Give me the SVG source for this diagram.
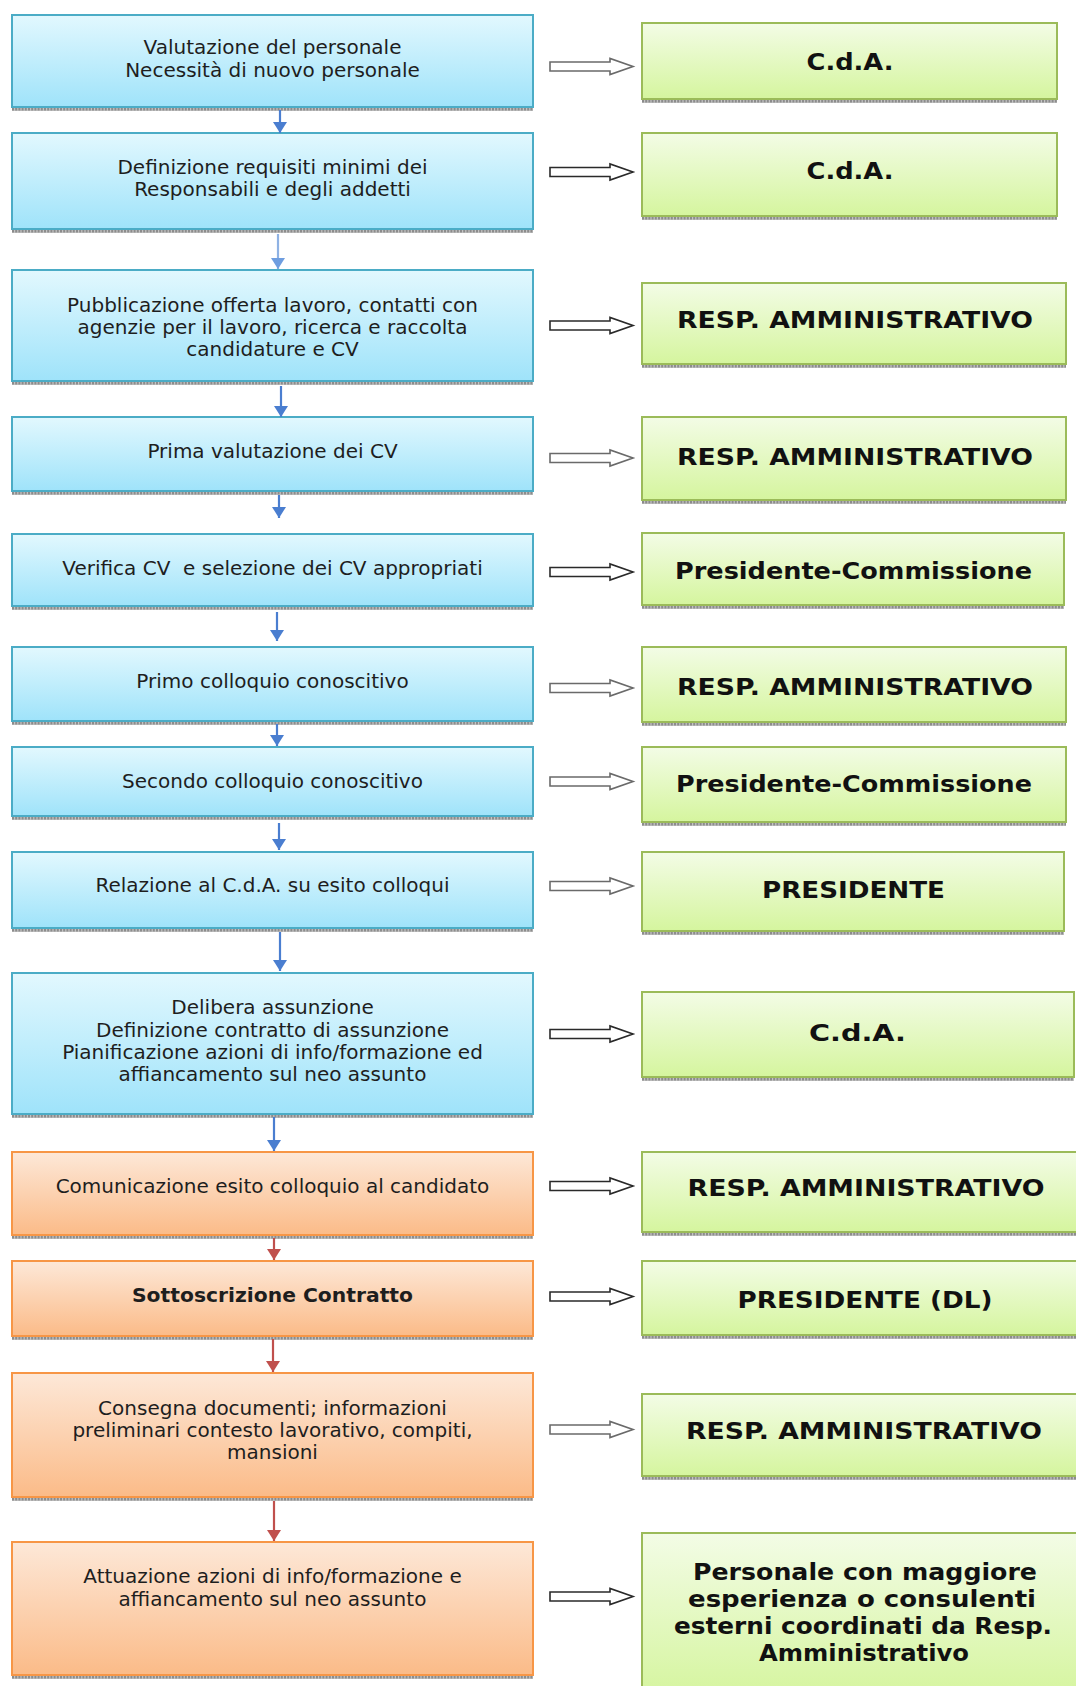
<svg xmlns="http://www.w3.org/2000/svg" xmlns:xlink="http://www.w3.org/1999/xlink" width="1076" height="1686" viewBox="0 0 1076 1686">
<defs>
<linearGradient id="gBlue" x1="0" y1="0" x2="0" y2="1"><stop offset="0" stop-color="#e2f8fe"/><stop offset="1" stop-color="#9fe3fa"/></linearGradient>
<linearGradient id="gOrange" x1="0" y1="0" x2="0" y2="1"><stop offset="0" stop-color="#fde8d8"/><stop offset="1" stop-color="#fbbb88"/></linearGradient>
<linearGradient id="gGreen" x1="0" y1="0" x2="0" y2="1"><stop offset="0" stop-color="#f3fce6"/><stop offset="1" stop-color="#d5f59e"/></linearGradient>
<marker id="mBlue" markerUnits="userSpaceOnUse" markerWidth="11" markerHeight="14" viewBox="0 0 11 14" refX="11" refY="7" orient="auto"><path d="M0,0 L11,7 L0,14 Z" fill="#4a7ed0"/></marker>
<marker id="mBlueL" markerUnits="userSpaceOnUse" markerWidth="11" markerHeight="14" viewBox="0 0 11 14" refX="11" refY="7" orient="auto"><path d="M0,0 L11,7 L0,14 Z" fill="#6f9ee0"/></marker>
<marker id="mRed" markerUnits="userSpaceOnUse" markerWidth="11" markerHeight="14" viewBox="0 0 11 14" refX="11" refY="7" orient="auto"><path d="M0,0 L11,7 L0,14 Z" fill="#c0504d"/></marker>
<path id="ha" d="M550,-4.5 H610 V-8 L633,0 L610,8 V4.5 H550 Z"/>
<style>
.bl{fill:url(#gBlue);stroke:#4bacc6;stroke-width:2}
.or{fill:url(#gOrange);stroke:#f79646;stroke-width:2}
.gr{fill:url(#gGreen);stroke:#9bbb59;stroke-width:2}
.sh{stroke:#8c8c8c;stroke-width:3;stroke-dasharray:2 1.2}
.shb{stroke:#c4c4c4;stroke-width:4}
.lt{font-family:"DejaVu Sans","Verdana",sans-serif;font-size:20px;fill:#1e1e1e;text-anchor:middle}
.ltb{font-family:"DejaVu Sans","Verdana",sans-serif;font-size:20px;font-weight:bold;fill:#1e1e1e;text-anchor:middle}
.rt{font-family:"DejaVu Sans","Verdana",sans-serif;font-size:23px;font-weight:bold;fill:#111;text-anchor:middle}
.vb{stroke:#4a7ed0;stroke-width:2.2;fill:none;marker-end:url(#mBlue)}
.vbl{stroke:#8fb2e4;stroke-width:2.2;fill:none;marker-end:url(#mBlueL)}
.vr{stroke:#c0504d;stroke-width:2.2;fill:none;marker-end:url(#mRed)}
.hd{fill:#fff;stroke:#2a2a2a;stroke-width:1.6}
.hl{fill:#fff;stroke:#6a6a6a;stroke-width:1.6}
</style>
</defs>
<rect width="1076" height="1686" fill="#fff"/>

<!-- Left process nodes -->
<g id="step1"><line class="shb" x1="12" y1="109" x2="533" y2="109"/><line class="sh" x1="12" y1="109" x2="533" y2="109"/><rect class="bl" x="12" y="15" width="521" height="92"/>
<text class="lt" x="272.5" y="54">Valutazione del personale</text><text class="lt" x="272.5" y="77">Necessità di nuovo personale</text></g>
<g id="step2"><line class="shb" x1="12" y1="231" x2="533" y2="231"/><line class="sh" x1="12" y1="231" x2="533" y2="231"/><rect class="bl" x="12" y="133" width="521" height="96"/>
<text class="lt" x="272.5" y="174">Definizione requisiti minimi dei</text><text class="lt" x="272.5" y="196">Responsabili e degli addetti</text></g>
<g id="step3"><line class="shb" x1="12" y1="383" x2="533" y2="383"/><line class="sh" x1="12" y1="383" x2="533" y2="383"/><rect class="bl" x="12" y="270" width="521" height="111"/>
<text class="lt" x="272.5" y="312">Pubblicazione offerta lavoro, contatti con</text><text class="lt" x="272.5" y="334">agenzie per il lavoro, ricerca e raccolta</text><text class="lt" x="272.5" y="356">candidature e CV</text></g>
<g id="step4"><line class="shb" x1="12" y1="493" x2="533" y2="493"/><line class="sh" x1="12" y1="493" x2="533" y2="493"/><rect class="bl" x="12" y="417" width="521" height="74"/>
<text class="lt" x="272.5" y="458">Prima valutazione dei CV</text></g>
<g id="step5"><line class="shb" x1="12" y1="608" x2="533" y2="608"/><line class="sh" x1="12" y1="608" x2="533" y2="608"/><rect class="bl" x="12" y="534" width="521" height="72"/>
<text class="lt" x="272.5" y="575" xml:space="preserve">Verifica CV  e selezione dei CV appropriati</text></g>
<g id="step6"><line class="shb" x1="12" y1="723" x2="533" y2="723"/><line class="sh" x1="12" y1="723" x2="533" y2="723"/><rect class="bl" x="12" y="647" width="521" height="74"/>
<text class="lt" x="272.5" y="688">Primo colloquio conoscitivo</text></g>
<g id="step7"><line class="shb" x1="12" y1="818" x2="533" y2="818"/><line class="sh" x1="12" y1="818" x2="533" y2="818"/><rect class="bl" x="12" y="747" width="521" height="69"/>
<text class="lt" x="272.5" y="788">Secondo colloquio conoscitivo</text></g>
<g id="step8"><line class="shb" x1="12" y1="930" x2="533" y2="930"/><line class="sh" x1="12" y1="930" x2="533" y2="930"/><rect class="bl" x="12" y="852" width="521" height="76"/>
<text class="lt" x="272.5" y="892">Relazione al C.d.A. su esito colloqui</text></g>
<g id="step9"><line class="shb" x1="12" y1="1116" x2="533" y2="1116"/><line class="sh" x1="12" y1="1116" x2="533" y2="1116"/><rect class="bl" x="12" y="973" width="521" height="141"/>
<text class="lt" x="272.5" y="1014">Delibera assunzione</text><text class="lt" x="272.5" y="1036.5">Definizione contratto di assunzione</text><text class="lt" x="272.5" y="1059">Pianificazione azioni di info/formazione ed</text><text class="lt" x="272.5" y="1081">affiancamento sul neo assunto</text></g>
<g id="step10"><line class="shb" x1="12" y1="1237" x2="533" y2="1237"/><line class="sh" x1="12" y1="1237" x2="533" y2="1237"/><rect class="or" x="12" y="1152" width="521" height="83"/>
<text class="lt" x="272.5" y="1193">Comunicazione esito colloquio al candidato</text></g>
<g id="step11"><line class="shb" x1="12" y1="1338" x2="533" y2="1338"/><line class="sh" x1="12" y1="1338" x2="533" y2="1338"/><rect class="or" x="12" y="1261" width="521" height="75"/>
<text class="ltb" x="272.5" y="1302" textLength="281" lengthAdjust="spacingAndGlyphs">Sottoscrizione Contratto</text></g>
<g id="step12"><line class="shb" x1="12" y1="1499" x2="533" y2="1499"/><line class="sh" x1="12" y1="1499" x2="533" y2="1499"/><rect class="or" x="12" y="1373" width="521" height="124"/>
<text class="lt" x="272.5" y="1415">Consegna documenti; informazioni</text><text class="lt" x="272.5" y="1437">preliminari contesto lavorativo, compiti,</text><text class="lt" x="272.5" y="1459">mansioni</text></g>
<g id="step13"><line class="shb" x1="12" y1="1677" x2="533" y2="1677"/><line class="sh" x1="12" y1="1677" x2="533" y2="1677"/><rect class="or" x="12" y="1542" width="521" height="133"/>
<text class="lt" x="272.5" y="1583">Attuazione azioni di info/formazione e</text><text class="lt" x="272.5" y="1606">affiancamento sul neo assunto</text></g>

<!-- Right responsibility nodes -->
<g id="resp1"><line class="shb" x1="642" y1="101" x2="1057" y2="101"/><line class="sh" x1="642" y1="101" x2="1057" y2="101"/><rect class="gr" x="642" y="23" width="415" height="76"/>
<text class="rt" x="850" y="70" textLength="87" lengthAdjust="spacingAndGlyphs">C.d.A.</text></g>
<g id="resp2"><line class="shb" x1="642" y1="218" x2="1057" y2="218"/><line class="sh" x1="642" y1="218" x2="1057" y2="218"/><rect class="gr" x="642" y="133" width="415" height="83"/>
<text class="rt" x="850" y="179" textLength="87" lengthAdjust="spacingAndGlyphs">C.d.A.</text></g>
<g id="resp3"><line class="shb" x1="642" y1="366" x2="1066" y2="366"/><line class="sh" x1="642" y1="366" x2="1066" y2="366"/><rect class="gr" x="642" y="283" width="424" height="81"/>
<text class="rt" x="855" y="328" textLength="356" lengthAdjust="spacingAndGlyphs">RESP. AMMINISTRATIVO</text></g>
<g id="resp4"><line class="shb" x1="642" y1="502" x2="1066" y2="502"/><line class="sh" x1="642" y1="502" x2="1066" y2="502"/><rect class="gr" x="642" y="417" width="424" height="83"/>
<text class="rt" x="855" y="464.5" textLength="356" lengthAdjust="spacingAndGlyphs">RESP. AMMINISTRATIVO</text></g>
<g id="resp5"><line class="shb" x1="642" y1="607" x2="1064" y2="607"/><line class="sh" x1="642" y1="607" x2="1064" y2="607"/><rect class="gr" x="642" y="533" width="422" height="72"/>
<text class="rt" x="853.5" y="579" textLength="357" lengthAdjust="spacingAndGlyphs">Presidente-Commissione</text></g>
<g id="resp6"><line class="shb" x1="642" y1="724" x2="1066" y2="724"/><line class="sh" x1="642" y1="724" x2="1066" y2="724"/><rect class="gr" x="642" y="647" width="424" height="75"/>
<text class="rt" x="855" y="694.5" textLength="356" lengthAdjust="spacingAndGlyphs">RESP. AMMINISTRATIVO</text></g>
<g id="resp7"><line class="shb" x1="642" y1="824" x2="1066" y2="824"/><line class="sh" x1="642" y1="824" x2="1066" y2="824"/><rect class="gr" x="642" y="747" width="424" height="75"/>
<text class="rt" x="854" y="792" textLength="356" lengthAdjust="spacingAndGlyphs">Presidente-Commissione</text></g>
<g id="resp8"><line class="shb" x1="642" y1="933" x2="1064" y2="933"/><line class="sh" x1="642" y1="933" x2="1064" y2="933"/><rect class="gr" x="642" y="852" width="422" height="79"/>
<text class="rt" x="853.5" y="898" textLength="183" lengthAdjust="spacingAndGlyphs">PRESIDENTE</text></g>
<g id="resp9"><line class="shb" x1="642" y1="1079" x2="1074" y2="1079"/><line class="sh" x1="642" y1="1079" x2="1074" y2="1079"/><rect class="gr" x="642" y="992" width="432" height="85"/>
<text class="rt" x="857.5" y="1041" textLength="97" lengthAdjust="spacingAndGlyphs">C.d.A.</text></g>
<g id="resp10"><line class="shb" x1="642" y1="1234" x2="1090" y2="1234"/><line class="sh" x1="642" y1="1234" x2="1090" y2="1234"/><rect class="gr" x="642" y="1152" width="446" height="80"/>
<text class="rt" x="866" y="1196" textLength="357" lengthAdjust="spacingAndGlyphs">RESP. AMMINISTRATIVO</text></g>
<g id="resp11"><line class="shb" x1="642" y1="1337" x2="1090" y2="1337"/><line class="sh" x1="642" y1="1337" x2="1090" y2="1337"/><rect class="gr" x="642" y="1261" width="446" height="74"/>
<text class="rt" x="865" y="1308" textLength="255" lengthAdjust="spacingAndGlyphs">PRESIDENTE (DL)</text></g>
<g id="resp12"><line class="shb" x1="642" y1="1478" x2="1090" y2="1478"/><line class="sh" x1="642" y1="1478" x2="1090" y2="1478"/><rect class="gr" x="642" y="1394" width="446" height="82"/>
<text class="rt" x="864" y="1439" textLength="356" lengthAdjust="spacingAndGlyphs">RESP. AMMINISTRATIVO</text></g>
<g id="resp13"><rect class="gr" x="642" y="1533" width="446" height="165"/>
<text class="rt" x="865" y="1580" textLength="344" lengthAdjust="spacingAndGlyphs">Personale con maggiore</text>
<text class="rt" x="862" y="1607" textLength="348" lengthAdjust="spacingAndGlyphs">esperienza o consulenti</text>
<text class="rt" x="863" y="1633.5" textLength="378" lengthAdjust="spacingAndGlyphs">esterni coordinati da Resp.</text>
<text class="rt" x="864" y="1660.5" textLength="210" lengthAdjust="spacingAndGlyphs">Amministrativo</text></g>

<!-- Connectors -->
<g id="connectors">
<path class="vb" d="M280,110 V133"/>
<path class="vbl" d="M278,234 V269"/>
<path class="vb" d="M281,386 V417"/>
<path class="vb" d="M279,495 V518"/>
<path class="vb" d="M277,612 V641"/>
<path class="vb" d="M277,724 V746"/>
<path class="vb" d="M279,823 V850"/>
<path class="vb" d="M280,932 V971"/>
<path class="vb" d="M274,1117 V1151"/>
<path class="vr" d="M274,1238 V1260"/>
<path class="vr" d="M273,1339 V1372"/>
<path class="vr" d="M274,1501 V1541"/>
<use href="#ha" class="hl" y="66.5"/>
<use href="#ha" class="hd" y="172"/>
<use href="#ha" class="hd" y="325.5"/>
<use href="#ha" class="hl" y="458"/>
<use href="#ha" class="hd" y="572"/>
<use href="#ha" class="hl" y="688"/>
<use href="#ha" class="hl" y="781.5"/>
<use href="#ha" class="hl" y="886"/>
<use href="#ha" class="hd" y="1034"/>
<use href="#ha" class="hd" y="1186"/>
<use href="#ha" class="hd" y="1296.5"/>
<use href="#ha" class="hl" y="1429.5"/>
<use href="#ha" class="hd" y="1596.5"/>
</g>
</svg>
